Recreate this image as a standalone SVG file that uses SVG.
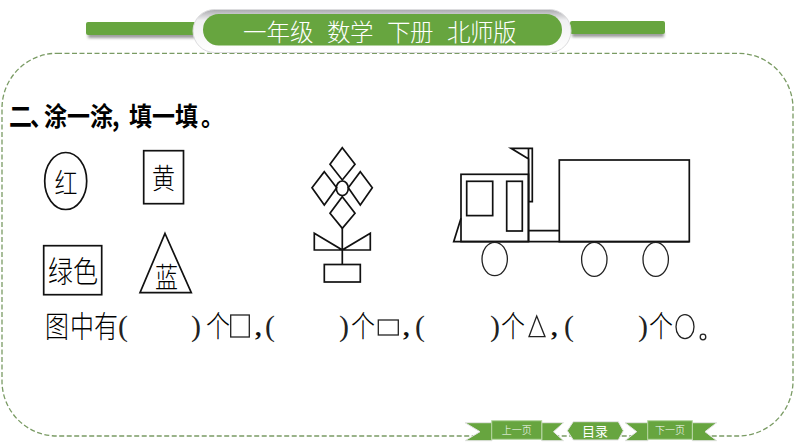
<svg xmlns="http://www.w3.org/2000/svg" width="794" height="447" viewBox="0 0 794 447">
<style>
.ln{fill:none;stroke:#111;stroke-width:1.7}
.lt{fill:none;stroke:#222;stroke-width:1.3}
.t{font-family:"Noto Sans CJK SC","Liberation Sans",sans-serif;fill:#000;font-weight:300}
.p{font-family:"Liberation Serif",serif;fill:#222;font-size:30px}
.c{font-family:"Liberation Serif",serif;fill:#111;font-size:26px;font-weight:700}
.h{font-family:"Noto Sans CJK SC","Liberation Sans",sans-serif;fill:#fff;font-weight:300}
.m{font-family:"Noto Sans CJK SC","Liberation Sans",sans-serif;fill:#fff;font-weight:400}
.b{font-family:"Noto Sans CJK SC","Liberation Sans",sans-serif;fill:#000;font-weight:700;font-size:23px}
.g{fill:#67a53f}
.bn{fill:#67a53f;stroke:#b5d6a0;stroke-width:1}
</style>
<defs>
<filter id="s" x="-10%" y="-40%" width="120%" height="200%"><feGaussianBlur stdDeviation="1.6"/></filter>
<linearGradient id="ring" x1="0" y1="0" x2="0" y2="1"><stop offset="0" stop-color="#a9a9ad"/><stop offset=".25" stop-color="#f0f0f2"/><stop offset="1" stop-color="#fff"/></linearGradient>
</defs>
<rect width="794" height="447" fill="#fff"/>
<rect id="frame" x="2" y="53.300" width="791" height="382.700" rx="55" ry="55" fill="none" stroke="#7a9b64" stroke-width="1.300" stroke-dasharray="5 2.500"/>
<g id="header">
<rect x="88" y="33" width="108" height="5" fill="#999" filter="url(#s)"/>
<rect x="572" y="32" width="92" height="5" fill="#999" filter="url(#s)"/>
<rect class="g" x="86" y="22" width="110" height="13" rx="2"/>
<rect class="g" x="570" y="21" width="95" height="13" rx="2"/>
<rect x="193" y="9.500" width="378" height="43" rx="21.500" fill="url(#ring)" stroke="#dcdcde"/>
<rect class="g" x="203" y="14" width="359" height="31.500" rx="15.700"/>
<text class="h" font-size="23.500" y="41" x="243 266.500 290 327 350 387 410 447 470 493">一年级数学下册北师版</text>
</g>
<g id="title"><text class="b" transform="translate(0,126) scale(1,1.150)" y="0" x="9 30 44 67 90 112 129 152 175 201">二、涂一涂,填一填。</text></g>
<g id="red"><ellipse class="ln" cx="65.700" cy="181" rx="21" ry="28.500"/><text class="t" font-size="23" text-anchor="middle" transform="translate(66,194) scale(1,1.250)">红</text></g>
<g id="yellow"><rect class="ln" x="143.700" y="150.700" width="39.800" height="53"/><text class="t" font-size="23" text-anchor="middle" transform="translate(163.500,189) scale(1,1.250)">黄</text></g>
<g id="green"><rect class="ln" x="43.700" y="245.700" width="58" height="49"/><text class="t" font-size="25" text-anchor="middle" transform="translate(73,282) scale(1,1.200)">绿色</text></g>
<g id="blue"><path class="ln" d="M165 233.500L191.300 292.700H140Z"/><text class="t" font-size="23" text-anchor="middle" transform="translate(166.500,288) scale(1,1.250)">蓝</text></g>
<g id="flower">
<path class="ln" d="M342.300 147.700L355 164.300 342.300 180 330 164.300ZM324.300 171.700L336.700 187.700 324.300 205 312 187.700ZM360.300 171.700L372.300 187.700 360.300 205 348.300 187.700ZM342.300 196.700L355 213.300 342.300 228.300 330 213.300Z"/>
<ellipse class="ln" cx="342.300" cy="188.300" rx="6" ry="7.300" fill="#fff"/>
<path class="ln" d="M342.300 228.300V264.300M314.300 233.300L342.300 250H314.300ZM370.300 233.300V250H342.300Z"/>
<rect class="ln" x="324.300" y="264.500" width="36" height="17.500"/>
</g>
<g id="truck">
<path class="ln" d="M511 148.300H532.300V201.700H528.700V159L511 148.300ZM528.500 148.300V241.700"/>
<rect class="ln" x="461" y="174.300" width="67.500" height="67.300"/>
<rect class="ln" x="466.700" y="181.300" width="26" height="34.300"/>
<rect class="ln" x="506.700" y="181.300" width="15.600" height="49.700"/>
<path class="ln" d="M461 218.300L453.700 241.700H689.300M528.500 230.700H559.300"/>
<rect class="ln" x="559.300" y="160" width="130" height="81.700"/>
<ellipse class="lt" cx="494.700" cy="259" rx="12.700" ry="16.700"/>
<ellipse class="lt" cx="594.300" cy="259.300" rx="12.700" ry="17"/>
<ellipse class="lt" cx="655.700" cy="259.300" rx="12.700" ry="17"/>
</g>
<g id="question">
<g transform="translate(0,337) scale(1,1.250)">
<text class="t" font-size="24" x="45 70 94" y="0">图中有</text>
<text class="t" font-size="24" x="206" y="0">个</text>
<text class="t" font-size="24" x="351" y="0">个</text>
<text class="t" font-size="24" x="501" y="0">个</text>
<text class="t" font-size="24" x="649" y="0">个</text>
</g>
<text class="p" x="118" y="336">(</text><text class="p" x="191" y="336">)</text>
<text class="p" x="265" y="336">(</text><text class="p" x="339" y="336">)</text>
<text class="p" x="415" y="336">(</text><text class="p" x="490" y="336">)</text>
<text class="p" x="564" y="336">(</text><text class="p" x="638" y="336">)</text>
<rect class="lt" x="230.700" y="315" width="18.600" height="22"/>
<text class="c" x="255" y="336">,</text>
<rect class="lt" x="378.300" y="320" width="20" height="15"/>
<text class="c" x="403" y="336">,</text>
<path class="lt" d="M536.700 316L545 336.700H529Z"/>
<text class="c" x="551" y="336">,</text>
<ellipse class="lt" cx="685" cy="326.700" rx="9" ry="12"/>
<circle class="lt" cx="703" cy="337" r="2.800"/>
</g>
<g id="nav-prev">
<path d="M465 422.700H492V440.700H465L480 431.700ZM541.700 422.700H563.500L553.500 431.700 563.500 440.700H541.700Z" class="g" stroke="#e4e4e4" stroke-width="1"/>
<rect class="bn" x="491.700" y="420.700" width="50" height="18.600"/>
<text class="h" font-size="10" x="516.700" y="433.500" text-anchor="middle">上一页</text>
</g>
<g id="nav-toc">
<path d="M573.300 421.700H618.300L623.300 430.700 618.300 440H573.300L567.300 430.700Z" class="g" stroke="#e4e4e4" stroke-width="1"/>
<text class="m" font-size="13" x="595" y="436" text-anchor="middle">目录</text>
</g>
<g id="nav-next">
<path d="M625 422.700H648V440.700H625L636.700 431.700ZM692.300 422.700H716.700L705 431.700 716.700 440.700H692.300Z" class="g" stroke="#e4e4e4" stroke-width="1"/>
<rect class="bn" x="647.700" y="420.700" width="44.600" height="18.600"/>
<text class="h" font-size="10" x="670" y="433.500" text-anchor="middle">下一页</text>
</g>
</svg>
